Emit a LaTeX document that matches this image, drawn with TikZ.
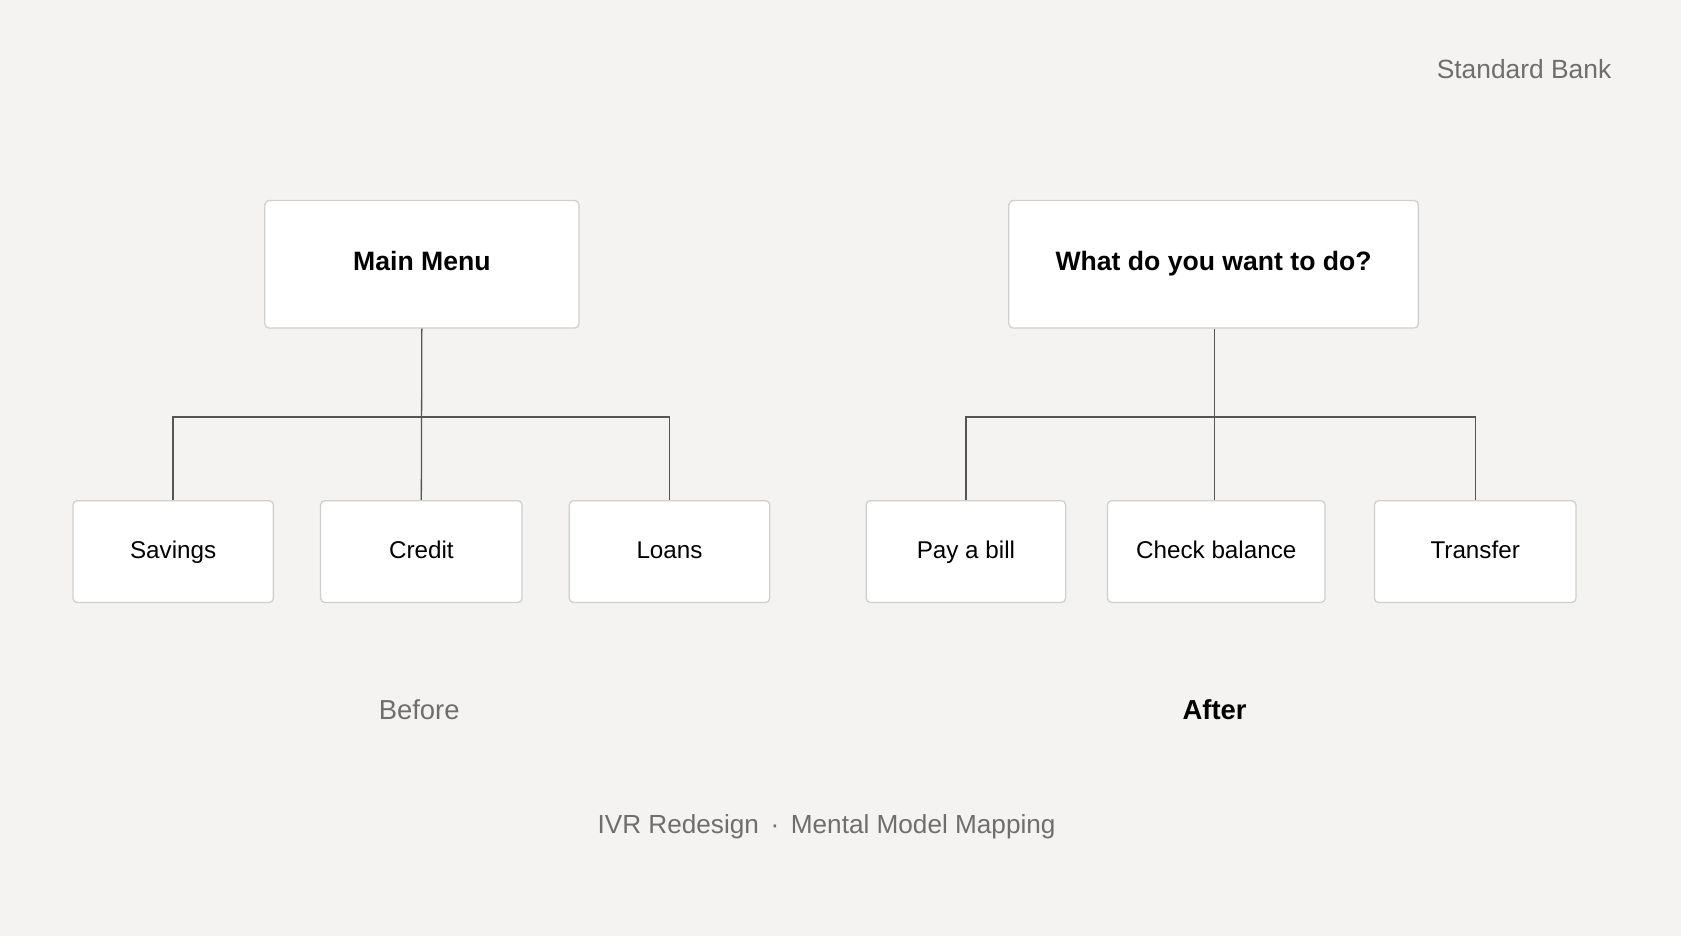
\documentclass[tikz,border=0pt]{standalone}
\usepackage{fontspec}
\setmainfont{Liberation Sans}
\definecolor{bg}{HTML}{F4F3F1}
\definecolor{bd}{HTML}{CFCFCF}
\definecolor{ln}{HTML}{555555}
\definecolor{gr}{HTML}{6E6E6E}
\begin{document}
\begin{tikzpicture}[x=0.5pt,y=-0.5pt,
  box/.style={draw=bd,fill=white,rounded corners=2pt,line width=0.6pt,inner sep=0pt,text height=1.6ex,text depth=0.45ex,font=\fontsize{11.3}{13}\selectfont},
  top/.style={box,font=\bfseries\fontsize{12.4}{14}\selectfont},
  conn/.style={draw=ln,line width=0.6pt}]
\fill[bg] (0,0) rectangle (1568,873);
\useasboundingbox (0,0) rectangle (1568,873);
\node[top,minimum width=146.5pt,minimum height=59.5pt] (mm) at (393.5,246.5) {Main Menu};
\node[top,minimum width=191pt,minimum height=59.5pt] (wd) at (1132,246.5) {What do you want to do?};
\node[box,minimum width=93.5pt,minimum height=47.5pt] (sav) at (161.5,514.5) {Savings};
\node[box,minimum width=94pt,minimum height=47.5pt] (cr) at (393,514.5) {Credit};
\node[box,minimum width=93.5pt,minimum height=47.5pt] (lo) at (624.5,514.5) {Loans};
\node[box,minimum width=93pt,minimum height=47.5pt] (pb) at (901,514.5) {Pay a bill};
\node[box,minimum width=101.5pt,minimum height=47.5pt] (cb) at (1134.5,514.5) {Check balance};
\node[box,minimum width=94pt,minimum height=47.5pt] (tr) at (1376,514.5) {Transfer};
\coordinate (b1) at (393,389);
\coordinate (b2) at (1133,389);
\draw[conn] (mm.south) -- (cr.north);
\draw[conn] (b1) -| (sav.north);
\draw[conn] (b1) -| (lo.north);
\draw[conn] (wd.south -| b2) -- (cb.north -| b2);
\draw[conn] (b2) -| (pb.north);
\draw[conn] (b2) -| (tr.north);
\node[text=gr,font=\fontsize{12.8}{15}\selectfont] (bf) at (391,662) {Before};
\node[text=black,font=\bfseries\fontsize{12.8}{15}\selectfont] (af) at (1133,662) {After};
\node[text=gr,font=\fontsize{12.2}{14}\selectfont] (ft) at (771,771) {IVR Redesign \,·\, Mental Model Mapping};
\node[text=gr,anchor=east,font=\fontsize{12.3}{14}\selectfont] (sb) at (1510,64) {Standard Bank};
\end{tikzpicture}
\end{document}
